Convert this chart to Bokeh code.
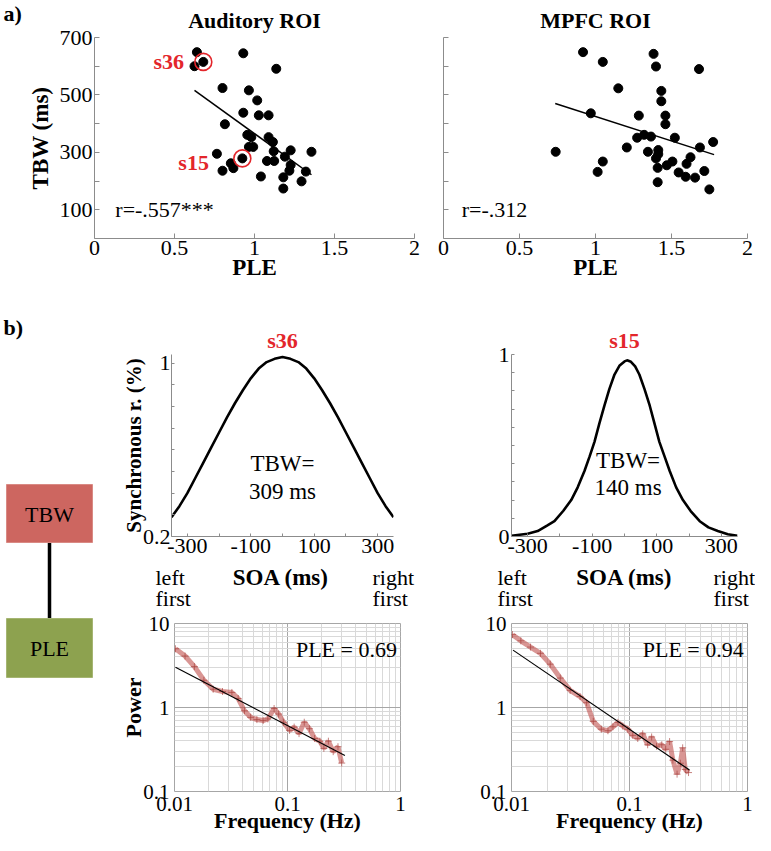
from bokeh.plotting import figure
from bokeh.layouts import column, row
from bokeh.models import FixedTicker, Label, Range1d
from bokeh.embed import file_html
from bokeh.resources import INLINE

SERIF = "Liberation Serif"
RED = "#E3262B"
AXIS_GREY = "#8c8c8c"

# ---------------- a) scatter data (read from the picture) ----------------
aud_ple = [0.64, 0.625, 0.68, 0.93, 1.136, 0.80, 0.965, 1.017, 0.93, 1.027, 1.088,
           0.815, 0.955, 0.98, 1.088, 1.115, 0.965, 0.992, 0.765, 1.12, 1.226,
           1.356, 0.924, 1.19, 1.078, 1.123, 0.852, 0.868, 0.80, 1.226, 1.218,
           1.321, 1.04, 1.18, 1.294, 1.18]
aud_tbw = [649, 600, 615, 645, 591, 524, 516, 481, 438, 429, 429,
           398, 361, 353, 353, 336, 319, 319, 295, 304, 307,
           302, 279, 285, 270, 270, 262, 245, 236, 256, 236,
           233, 216, 213, 199, 174]
aud_fit_ple = [0.625, 1.356]
aud_fit_tbw = [516, 222]
aud_r_text = "r=-.557***"
aud_highlight = {"s36": 2, "s15": 22}

mpfc_ple = [0.918, 1.048, 1.382, 1.398, 1.681, 1.150, 1.433, 1.433, 0.969, 1.285,
            1.46, 1.46, 1.274, 1.32, 1.365, 1.522, 1.206, 1.345, 1.413, 1.413,
            1.398, 0.738, 1.774, 1.687, 1.506, 1.625, 1.469, 1.409, 1.599, 1.048,
            1.014, 1.547, 1.593, 1.655, 1.716, 1.409, 1.749]
mpfc_tbw = [649, 615, 643, 599, 590, 523, 514, 478, 436, 428,
            428, 398, 351, 361, 355, 351, 317, 302, 308, 294,
            279, 302, 336, 317, 268, 283, 255, 246, 260, 268,
            232, 230, 215, 212, 235, 196, 171]
mpfc_fit_ple = [0.735, 1.78]
mpfc_fit_tbw = [470, 292]
mpfc_r_text = "r=-.312"

ple_ticks = [0, 0.5, 1, 1.5, 2]
ple_tick_labels = ["0", "0.5", "1", "1.5", "2"]
tbw_ticks = [100, 200, 300, 400, 500, 600, 700]
tbw_tick_labels = ["100", "", "300", "", "500", "", "700"]

# ---------------- b) synchrony curves (read from the picture) ----------------
s36_soa = [-350, -325, -300, -275, -250, -225, -200, -175, -150, -125, -100, -75, -50, -25, 0,
           25, 50, 75, 100, 125, 150, 175, 200, 225, 250, 275, 300, 325, 350]
s36_rate = [0.289, 0.34, 0.40, 0.47, 0.54, 0.61, 0.68, 0.75, 0.815, 0.875, 0.93, 0.975, 1.005, 1.02, 1.028,
            1.02, 1.005, 0.975, 0.93, 0.875, 0.815, 0.75, 0.68, 0.61, 0.54, 0.47, 0.40, 0.34, 0.289]
s36_tbw_text = ["TBW=", "309 ms"]

s15_soa = [-350, -300, -269, -240, -217, -190, -165, -145, -124, -108, -93, -78, -62, -47, -31, -15, 0, 8,
           20, 33, 46, 62, 78, 93, 108, 124, 140, 160, 181, 205, 233, 260, 289, 320, 350]
s15_rate = [0.004, 0.015, 0.03, 0.06, 0.084, 0.14, 0.20, 0.27, 0.36, 0.44, 0.52, 0.62, 0.72, 0.81, 0.89, 0.94, 0.962, 0.968,
            0.96, 0.935, 0.89, 0.81, 0.72, 0.62, 0.52, 0.44, 0.36, 0.27, 0.20, 0.14, 0.084, 0.05, 0.03, 0.012, 0.004]
s15_tbw_text = ["TBW=", "140 ms"]

soa_ticks = [-300, -200, -100, 0, 100, 200, 300]
soa_tick_labels = ["-300", "", "-100", "", "100", "", "300"]
s36_rate_ticks = [0.2, 0.3, 0.4, 0.5, 0.6, 0.7, 0.8, 0.9, 1.0]
s36_rate_labels = ["0.2", "", "", "", "", "", "", "", "1"]
s15_rate_ticks = [0.0, 0.1, 0.2, 0.3, 0.4, 0.5, 0.6, 0.7, 0.8, 0.9, 1.0]
s15_rate_labels = ["0", "", "", "", "", "", "", "", "", "", "1"]

# ---------------- b) power spectra (read from the picture) ----------------
s36_freq = [0.0102, 0.0124, 0.0150, 0.0182, 0.0220, 0.0266, 0.0322, 0.0366, 0.0416, 0.0472,
            0.0536, 0.0609, 0.0670, 0.0761, 0.0835, 0.0923, 0.1043, 0.1145, 0.1265, 0.1407,
            0.1563, 0.1739, 0.1936, 0.2098, 0.2301, 0.2538, 0.2797, 0.3017]
s36_power = [5.0, 4.1, 3.07, 2.11, 1.65, 1.55, 1.51, 1.28, 0.914, 0.764,
             0.718, 0.699, 0.731, 0.973, 0.836, 0.668, 0.534, 0.584, 0.489, 0.668,
             0.559, 0.427, 0.397, 0.326, 0.397, 0.298, 0.341, 0.218]
s36_fit_freq = [0.0102, 0.322]
s36_fit_power = [3.02, 0.268]
s36_ple_text = "PLE = 0.69"

s15_freq = [0.0102, 0.0120, 0.0145, 0.0176, 0.0213, 0.0259, 0.0314, 0.0381, 0.0433, 0.0493,
            0.0577, 0.0657, 0.0724, 0.0798, 0.0878, 0.0968, 0.1066, 0.1175, 0.1294, 0.1426,
            0.1540, 0.1696, 0.1878, 0.2027, 0.2187, 0.2331, 0.2530, 0.2700, 0.2822, 0.2968, 0.3164]
s15_power = [7.37, 6.22, 5.24, 4.42, 3.28, 2.24, 1.60, 1.35, 1.14, 0.683,
             0.552, 0.529, 0.590, 0.665, 0.600, 0.552, 0.466, 0.428, 0.486, 0.360,
             0.446, 0.346, 0.360, 0.318, 0.393, 0.236, 0.161, 0.217, 0.331, 0.183, 0.168]
s15_fit_freq = [0.0103, 0.3225]
s15_fit_power = [4.82, 0.180]
s15_ple_text = "PLE = 0.94"

freq_ticks = [0.01, 0.1, 1]
freq_tick_labels = ["0.01", "0.1", "1"]
freq_minor = [0.02, 0.03, 0.04, 0.05, 0.06, 0.07, 0.08, 0.09, 0.2, 0.3, 0.4, 0.5, 0.6, 0.7, 0.8, 0.9]
power_ticks = [0.1, 1, 10]
power_tick_labels = ["0.1", "1", "10"]
power_minor = [0.2, 0.3, 0.4, 0.5, 0.6, 0.7, 0.8, 0.9, 2, 3, 4, 5, 6, 7, 8, 9]

TICK_SIZE = "22px"
ALABEL_SIZE = "23px"
TEXT_SIZE = "22px"


# ---------------- helpers ----------------
def make_fig(w, h, bl, br, bt, bb, **kw):
    p = figure(width=w, height=h, min_border_left=bl, min_border_right=br,
               min_border_top=bt, min_border_bottom=bb, toolbar_location=None,
               output_backend="svg", **kw)
    p.outline_line_color = None
    p.background_fill_color = "white"
    p.border_fill_color = "white"
    return p


def blank_fig(w, h, x_range, y_range):
    p = make_fig(w, h, 0, 0, 0, 0, x_range=x_range, y_range=y_range)
    p.axis.visible = False
    p.grid.visible = False
    return p


def style_axes(p, tick_size=TICK_SIZE, label_size=ALABEL_SIZE):
    for ax in p.axis:
        ax.major_label_text_font = SERIF
        ax.major_label_text_font_size = tick_size
        ax.major_label_text_color = "black"
        ax.axis_label_text_font = SERIF
        ax.axis_label_text_font_size = label_size
        ax.axis_label_text_font_style = "bold"
        ax.axis_label_text_color = "black"
        ax.axis_line_color = AXIS_GREY
        ax.major_tick_line_color = AXIS_GREY
        ax.minor_tick_line_color = None
        ax.major_tick_in = 5
        ax.major_tick_out = 0
        ax.major_label_standoff = 2
        ax.axis_label_standoff = -3


def set_ticks(axis, ticks, labels):
    axis.ticker = FixedTicker(ticks=ticks)
    axis.major_label_overrides = {t: l for t, l in zip(ticks, labels)}


def label(p, x, y, text, size=TEXT_SIZE, bold=False, color="black", align="left", baseline="middle"):
    p.add_layout(Label(x=x, y=y, text=text, text_font=SERIF, text_font_size=size,
                       text_font_style="bold" if bold else "normal", text_color=color,
                       text_align=align, text_baseline=baseline))


def set_title(p, text, color="black", standoff=6, size="22px"):
    p.title.text = text
    p.title.align = "center"
    p.title.text_font = SERIF
    p.title.text_font_size = size
    p.title.text_font_style = "bold"
    p.title.text_color = color
    p.title.standoff = standoff


# ---------------- a) panel label ----------------
afig = blank_fig(24, 288, Range1d(0, 24), Range1d(288, 0))
label(afig, 3, 13, "a)", bold=True)

# ---------------- a) Auditory ROI ----------------
a1 = make_fig(401, 288, 68, 11, 35, 50, x_range=Range1d(0, 2), y_range=Range1d(0, 700))
a1.grid.visible = False
style_axes(a1)
set_ticks(a1.xaxis[0], ple_ticks, ple_tick_labels)
set_ticks(a1.yaxis[0], tbw_ticks, tbw_tick_labels)
a1.xaxis.axis_label = "PLE"
a1.yaxis.axis_label = "TBW (ms)"
a1.yaxis.axis_label_standoff = 4
set_title(a1, "Auditory ROI", standoff=10)
a1.scatter(aud_ple, aud_tbw, size=9, color="black")
a1.line(aud_fit_ple, aud_fit_tbw, color="black", line_width=1.5)
hx = [aud_ple[i] for i in aud_highlight.values()]
hy = [aud_tbw[i] for i in aud_highlight.values()]
a1.scatter(hx, hy, size=17, fill_color=None, line_color=RED, line_width=1.6)
label(a1, 0.56, 615, "s36", bold=True, color=RED, align="right")
label(a1, 0.715, 265, "s15", bold=True, color=RED, align="right")
label(a1, 0.13, 100, aud_r_text)

# ---------------- a) MPFC ROI ----------------
a2 = make_fig(330, 288, 18, 8, 35, 50, x_range=Range1d(0, 2), y_range=Range1d(0, 700))
a2.grid.visible = False
style_axes(a2)
set_ticks(a2.xaxis[0], ple_ticks, ple_tick_labels)
set_ticks(a2.yaxis[0], tbw_ticks, [""] * len(tbw_ticks))
a2.yaxis.major_label_standoff = 0
a2.xaxis.axis_label = "PLE"
set_title(a2, "MPFC ROI", standoff=10)
a2.scatter(mpfc_ple, mpfc_tbw, size=9, color="black")
a2.line(mpfc_fit_ple, mpfc_fit_tbw, color="black", line_width=1.5)
label(a2, 0.12, 100, mpfc_r_text)

# ---------------- b) TBW / PLE diagram ----------------
bx = blank_fig(118, 547, Range1d(0, 118), Range1d(547, 0))
bx.segment(x0=[49], y0=[254], x1=[49], y1=[330], line_color="black", line_width=3.5)
bx.quad(left=[6], right=[92], top=[196], bottom=[254], fill_color="#CD6660",
        line_color="#D98A84", line_width=1)
bx.quad(left=[6], right=[92], top=[330], bottom=[389], fill_color="#8DA24F",
        line_color="#A5B572", line_width=1)
label(bx, 49, 226, "TBW", align="center")
label(bx, 49, 360, "PLE", align="center")
label(bx, 3, 39, "b)", bold=True)

# ---------------- b) synchrony curves ----------------
C1_W, C1_BL, C1_BR = 322, 50, 47
C2_W, C2_BL, C2_BR = 315, 71, 18

c1 = make_fig(C1_W, 278, C1_BL, C1_BR, 66, 30, x_range=Range1d(-350, 350), y_range=Range1d(0.2, 1.04))
c1.grid.visible = False
style_axes(c1)
set_ticks(c1.xaxis[0], soa_ticks, soa_tick_labels)
set_ticks(c1.yaxis[0], s36_rate_ticks, s36_rate_labels)
c1.yaxis.axis_label = "Synchronous r. (%)"
c1.yaxis.axis_label_text_font_size = "21px"
c1.yaxis.axis_label_standoff = -6
c1.yaxis.major_label_standoff = 1
c1.xaxis.major_tick_in = 3
c1.yaxis.major_tick_in = 3
set_title(c1, "s36", color=RED, standoff=4)
c1.line(s36_soa, s36_rate, color="black", line_width=2.6)
label(c1, 0, 0.536, s36_tbw_text[0], size="23px", align="center")
label(c1, 0, 0.41, s36_tbw_text[1], size="23px", align="center")

c2 = make_fig(C2_W, 278, C2_BL, C2_BR, 64, 29, x_range=Range1d(-350, 350), y_range=Range1d(0, 1))
c2.grid.visible = False
style_axes(c2)
set_ticks(c2.xaxis[0], soa_ticks, soa_tick_labels)
set_ticks(c2.yaxis[0], s15_rate_ticks, s15_rate_labels)
c2.xaxis.major_tick_in = 3
c2.yaxis.major_tick_in = 3
set_title(c2, "s15", color=RED, standoff=4)
c2.line(s15_soa, s15_rate, color="black", line_width=2.6)
label(c2, 11, 0.416, s15_tbw_text[0], size="23px", align="center")
label(c2, 11, 0.27, s15_tbw_text[1], size="23px", align="center")


def soa_caption(w, bl, br, left_gap, right_gap):
    # strip under a synchrony plot, sharing its SOA scale (frame spans -350..350)
    per = 700.0 / (w - bl - br)
    p = blank_fig(w, 44, Range1d(-350 - bl * per, 350 + br * per), Range1d(44, 0))
    label(p, -350 - left_gap * per, 11, "left")
    label(p, -350 - left_gap * per, 32, "first")
    label(p, 0, 11, "SOA (ms)", size=ALABEL_SIZE, bold=True, align="center")
    label(p, 350 - right_gap * per, 11, "right")
    label(p, 350 - right_gap * per, 32, "first")
    return p


l1 = soa_caption(C1_W, C1_BL, C1_BR, 13, 21)
l2 = soa_caption(C2_W, C2_BL, C2_BR, 14, 24)


# ---------------- b) power spectra ----------------
def spectrum(w, bl, br, freq, power, fit_f, fit_p, ple_text, ylabel):
    p = make_fig(w, 225, bl, br, 13, 44, x_axis_type="log", y_axis_type="log",
                 x_range=Range1d(0.01, 1), y_range=Range1d(0.1, 10))
    style_axes(p, tick_size="21px", label_size="22px")
    tx = FixedTicker(ticks=freq_ticks, minor_ticks=freq_minor)
    ty = FixedTicker(ticks=power_ticks, minor_ticks=power_minor)
    p.xaxis.ticker = tx
    p.yaxis.ticker = ty
    p.xgrid.ticker = tx
    p.ygrid.ticker = ty
    p.xaxis.major_label_overrides = dict(zip(freq_ticks, freq_tick_labels))
    p.yaxis.major_label_overrides = dict(zip(power_ticks, power_tick_labels))
    for ax in p.axis:
        ax.axis_line_color = None
        ax.major_tick_line_color = None
        ax.major_label_standoff = 1
    p.grid.grid_line_color = "#a6a6a6"
    p.grid.minor_grid_line_color = "#d9d9d9"
    p.outline_line_color = "#a6a6a6"
    p.xaxis.axis_label = "Frequency (Hz)"
    p.xaxis.axis_label_standoff = -6
    p.yaxis.axis_label_standoff = -6
    if ylabel:
        p.yaxis.axis_label = ylabel
    p.line(freq, power, color="#C0504D", line_width=5, alpha=0.6)
    p.scatter(freq, power, marker="cross", size=7, color="#A8403C", alpha=0.65)
    p.line(fit_f, fit_p, color="black", line_width=1.2)
    label(p, 0.93, 4.9, ple_text, align="right")
    return p


s1 = spectrum(C1_W, 42, 40, s36_freq, s36_power, s36_fit_freq, s36_fit_power, s36_ple_text, "Power")
s2 = spectrum(C2_W, 71, 8, s15_freq, s15_power, s15_fit_freq, s15_fit_power, s15_ple_text, None)

layout = column(
    row(column(afig), a1, a2),
    row(bx, column(row(c1, c2), row(l1, l2), row(s1, s2))),
)

open("out.html", "w").write(file_html(layout, INLINE))
